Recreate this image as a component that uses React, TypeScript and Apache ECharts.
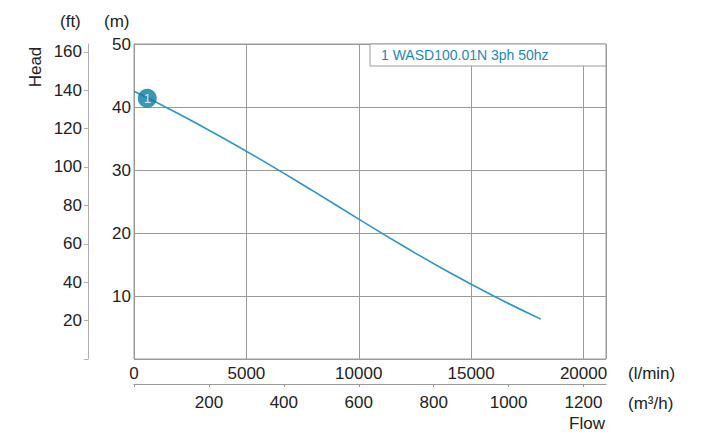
import React, { useEffect, useRef } from "react";
import * as echarts from "echarts";

// Flow in l/min, head in m
const flowLmin = [0, 2000, 4000, 6000, 8000, 10000, 12000, 14000, 16000, 18100];
const headM = [42.5, 38.9, 35.0, 30.9, 26.6, 22.2, 17.9, 13.8, 10.0, 6.33];
const markerPoint = [590, 41.4];
const seriesName = "1 WASD100.01N 3ph 50hz";
const flowTicksLabel = "(l/min)";
const flowM3hLabel = "(m³/h)";

const FONT = "'Liberation Sans', Arial, Helvetica, sans-serif";
const GRAY = "#9a9a9a";
const TXT = "#222";
const LINE = "#2b97c2";

export default function App() {
  const ref = useRef<HTMLDivElement>(null);
  useEffect(() => {
    if (!ref.current) return;
    const chart = echarts.init(ref.current, undefined, { renderer: "svg" });
    const data = flowLmin.map((f, i) => [f, headM[i]]);
    const plain = (v: number) => (v === 0 ? "" : String(v));
    chart.setOption({
      animation: false,
      textStyle: { fontFamily: FONT },
      grid: {
        left: 134,
        top: 44,
        width: 472,
        height: 315,
        show: true,
        borderColor: GRAY,
        borderWidth: 1,
        containLabel: false,
      },
      xAxis: [
        {
          type: "value",
          min: 0,
          max: 21000,
          interval: 5000,
          position: "bottom",
          axisLine: { show: false, onZero: false },
          axisTick: { show: false },
          splitLine: { show: true, lineStyle: { color: GRAY, width: 1 } },
          axisLabel: {
            color: TXT,
            fontSize: 17,
            fontFamily: FONT,
            margin: 6,
            showMaxLabel: false,
            formatter: (v: number) => String(v),
          },
        },
        {
          type: "value",
          min: 0,
          max: 1260,
          interval: 200,
          position: "bottom",
          offset: 25,
          axisLine: { show: true, onZero: false, lineStyle: { color: GRAY, width: 1 } },
          axisTick: { show: true, length: 3, lineStyle: { color: GRAY } },
          splitLine: { show: false },
          axisLabel: {
            color: TXT,
            fontSize: 17,
            fontFamily: FONT,
            margin: 10,
            showMaxLabel: false,
            formatter: plain,
          },
        },
      ],
      yAxis: [
        {
          type: "value",
          min: 0,
          max: 50,
          interval: 10,
          position: "left",
          axisLine: { show: true, onZero: false, lineStyle: { color: GRAY } },
          axisTick: { show: false },
          splitLine: { show: true, lineStyle: { color: GRAY, width: 1 } },
          axisLabel: {
            color: TXT,
            fontSize: 17,
            fontFamily: FONT,
            margin: 3,
            formatter: plain,
          },
        },
        {
          type: "value",
          min: 0,
          max: 164.04,
          interval: 20,
          position: "left",
          offset: 46,
          axisLine: { show: true, onZero: false, lineStyle: { color: "#b0b0b0" } },
          axisTick: { show: true, length: 4, lineStyle: { color: "#b0b0b0" } },
          splitLine: { show: false },
          axisLabel: {
            color: TXT,
            fontSize: 17,
            fontFamily: FONT,
            margin: 6,
            showMaxLabel: false,
            formatter: plain,
          },
        },
      ],
      series: [
        {
          name: seriesName,
          type: "line",
          xAxisIndex: 0,
          yAxisIndex: 0,
          data,
          smooth: 0.5,
          showSymbol: false,
          lineStyle: { color: LINE, width: 1.6 },
        },
        {
          type: "scatter",
          xAxisIndex: 0,
          yAxisIndex: 0,
          data: [markerPoint],
          symbolSize: 19,
          itemStyle: { color: "#0b7aa0" },
          label: {
            show: true,
            position: "inside",
            formatter: "1",
            color: "#fff",
            fontSize: 13,
            fontFamily: FONT,
          },
          z: 5,
        },
      ],
      graphic: [
        {
          type: "rect",
          shape: { x: 370, y: 44, width: 236, height: 22 },
          style: { fill: "#fff", stroke: GRAY, lineWidth: 1 },
          z: 10,
        },
        {
          type: "text",
          x: 381,
          y: 55,
          style: {
            text: seriesName,
            fill: "#1f88b3",
            font: `14px ${FONT}`,
            textVerticalAlign: "middle",
          },
          z: 11,
        },
        {
          type: "text",
          x: 60,
          y: 21,
          style: { text: "(ft)", fill: TXT, font: `17px ${FONT}`, textVerticalAlign: "middle" },
        },
        {
          type: "text",
          x: 104,
          y: 21,
          style: { text: "(m)", fill: TXT, font: `17px ${FONT}`, textVerticalAlign: "middle" },
        },
        {
          type: "text",
          x: 35,
          y: 67,
          rotation: Math.PI / 2,
          style: {
            text: "Head",
            fill: TXT,
            font: `17px ${FONT}`,
            textAlign: "center",
            textVerticalAlign: "middle",
          },
        },
        {
          type: "text",
          x: 628,
          y: 373,
          style: { text: flowTicksLabel, fill: TXT, font: `17px ${FONT}`, textVerticalAlign: "middle" },
        },
        {
          type: "text",
          x: 628,
          y: 403,
          style: { text: flowM3hLabel, fill: TXT, font: `17px ${FONT}`, textVerticalAlign: "middle" },
        },
        {
          type: "text",
          x: 605,
          y: 423,
          style: {
            text: "Flow",
            fill: TXT,
            font: `17px ${FONT}`,
            textAlign: "right",
            textVerticalAlign: "middle",
          },
        },
      ],
    });
    return () => chart.dispose();
  }, []);
  return (
    <div
      ref={ref}
      style={{ position: "fixed", left: 0, top: 0, width: 718, height: 432, background: "#fff" }}
    />
  );
}
